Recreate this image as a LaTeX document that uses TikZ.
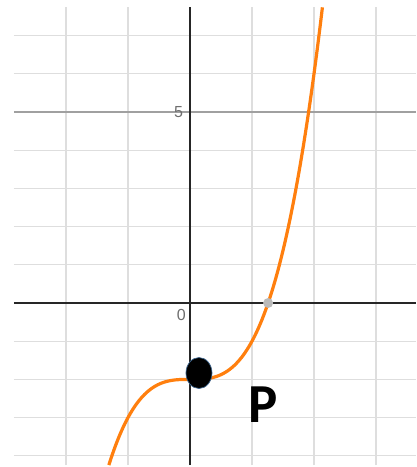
\documentclass[tikz,border=0pt]{standalone}
\usepackage{fontspec}
\setmainfont{Liberation Sans}
\newfontfamily\pfont{Carlito}
\usepackage{tikz}
\usetikzlibrary{positioning,shapes.geometric}
\definecolor{curveorange}{RGB}{255,127,14}
\definecolor{gridgray}{RGB}{222,222,222}
\definecolor{majorgray}{RGB}{160,160,160}
\definecolor{ticklabel}{RGB}{110,110,110}
\definecolor{dotrim}{RGB}{60,100,140}
\tikzset{
  gridline/.style={draw=gridgray, line width=1.2pt},
  majorline/.style={draw=majorgray, line width=1.2pt},
  axisline/.style={draw=black!85, line width=1.7pt},
  curveline/.style={draw=curveorange, line width=3.2pt},
  ticknum/.style={text=ticklabel, font=\fontsize{16}{18}\selectfont, inner sep=0pt},
  pointdot/.style={ellipse, fill=black, draw=dotrim, line width=0.7pt,
    minimum width=26pt, minimum height=31pt, inner sep=0pt},
  crossdot/.style={circle, fill=black!27, minimum size=10pt, inner sep=0pt},
  pointlabel/.style={font=\pfont\bfseries\fontsize{55}{60}\selectfont, inner sep=0pt}
}

\begin{document}
\begin{tikzpicture}[x=62pt, y=38.2pt]
  \useasboundingbox (-3.0645,-4.2932) rectangle (3.6452,7.9319);
  \clip (-3.0645,-4.2932) rectangle (3.6452,7.9319);

  % grid
  \foreach \gy in {-4,-3,-2,-1,1,2,3,4,6,7}
    \draw[gridline] (-2.839,\gy) -- (3.6452,\gy);
  \foreach \gx in {-2,-1,1,2,3}
    \draw[gridline] (\gx,-4.241) -- (\gx,7.749);
  \draw[majorline] (-2.839,5) -- (3.6452,5);

  % axes
  \coordinate (xstart) at (-2.839,0);
  \coordinate (xend) at (3.6452,0);
  \coordinate (ystart) at (0,-4.241);
  \coordinate (yend) at (0,7.749);
  \draw[axisline] (xstart) -- (xend);
  \draw[axisline] (ystart) -- (yend);

  \node[ticknum, anchor=east] (labfive) at (-0.11,5) {5};
  \node[ticknum, anchor=north east] (labzero) at (-0.065,-0.16) {0};

  % curve
  \draw[curveline, domain=-1.309:2.136, samples=120, smooth]
    plot (\x, {\x*\x*\x-2});

  \node[crossdot] (root) at (1.26,0) {};
  \node[pointdot] (pdot) at (0.145,-1.833) {};
  \node[pointlabel] (plabel) at (1.18,-2.67) {P};
\end{tikzpicture}
\end{document}
